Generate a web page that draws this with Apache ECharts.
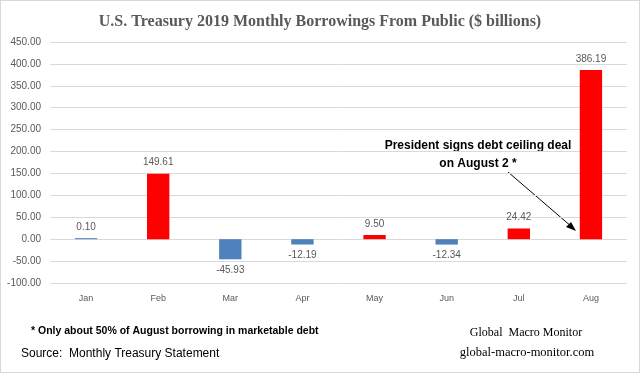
<!DOCTYPE html>
<html><head><meta charset="utf-8">
<script src="https://cdn.jsdelivr.net/npm/echarts@6/dist/echarts.min.js"></script>
<style>html,body{margin:0;padding:0;background:#fff}#c{width:640px;height:373px;box-sizing:border-box;border:1px solid #d9d9d9}</style>
</head><body><div id="c"></div>
<script>
const categories = ['Jan','Feb','Mar','Apr','May','Jun','Jul','Aug'];
const values = [0.10, 149.61, -45.93, -12.19, 9.50, -12.34, 24.42, 386.19];
const colors = ['#4F81BD','#FF0000','#4F81BD','#4F81BD','#FF0000','#4F81BD','#FF0000','#FF0000'];
const chart = echarts.init(document.getElementById('c'), null, {renderer:'canvas'});
chart.setOption({
  animation:false,
  title:{text:'U.S. Treasury 2019 Monthly Borrowings From Public ($ billions)', left:'center', top:8,
    textStyle:{fontFamily:'Liberation Serif', fontWeight:'bold', fontSize:16, color:'#595959'}},
  grid:{left:49, right:12, top:41, bottom:89},
  xAxis:{type:'category', data:categories, axisTick:{show:false}, axisLine:{show:false},
    axisLabel:{color:'#595959', fontSize:9, fontFamily:'Liberation Sans', margin:11}},
  yAxis:{type:'value', min:-100, max:450, interval:50,
    axisLabel:{formatter:v=>v.toFixed(2), color:'#595959', fontSize:10, fontFamily:'Liberation Sans', margin:9},
    splitLine:{lineStyle:{color:'#d9d9d9'}}, axisLine:{show:false}, axisTick:{show:false}},
  series:[{type:'bar', barWidth:'31%', barMinHeight:1,
    data: values.map((v,i)=>({value:v, itemStyle:{color:colors[i]}, label:{position: v<0?'bottom':'top'}})),
    label:{show:true, formatter:p=>p.value.toFixed(2), color:'#595959', fontSize:10, fontFamily:'Liberation Sans', distance:6}}],
  graphic:[
    {type:'text', x:477, y:139, style:{text:'President signs debt ceiling deal', fill:'#000', font:'bold 12px "Liberation Sans"', textAlign:'center'}},
    {type:'text', x:477, y:157, style:{text:'on August 2 *', fill:'#000', font:'bold 12px "Liberation Sans"', textAlign:'center'}},
    {type:'line', shape:{x1:507, y1:171, x2:571, y2:226}, style:{stroke:'#000', lineWidth:1}},
    {type:'polygon', shape:{points:[[575,230],[565,226],[570,221]]}, style:{fill:'#000'}},
    {type:'text', x:30, y:325, style:{text:'* Only about 50% of August borrowing in marketable debt', fill:'#000', font:'bold 10.5px "Liberation Sans"'}},
    {type:'text', x:20, y:347, style:{text:'Source:  Monthly Treasury Statement', fill:'#000', font:'12px "Liberation Sans"'}},
    {type:'text', x:525, y:326, style:{text:'Global  Macro Monitor', fill:'#000', font:'12px "Liberation Serif"', textAlign:'center'}},
    {type:'text', x:526, y:345, style:{text:'global-macro-monitor.com', fill:'#000', font:'12.5px "Liberation Serif"', textAlign:'center'}}
  ]
});
</script></body></html>
